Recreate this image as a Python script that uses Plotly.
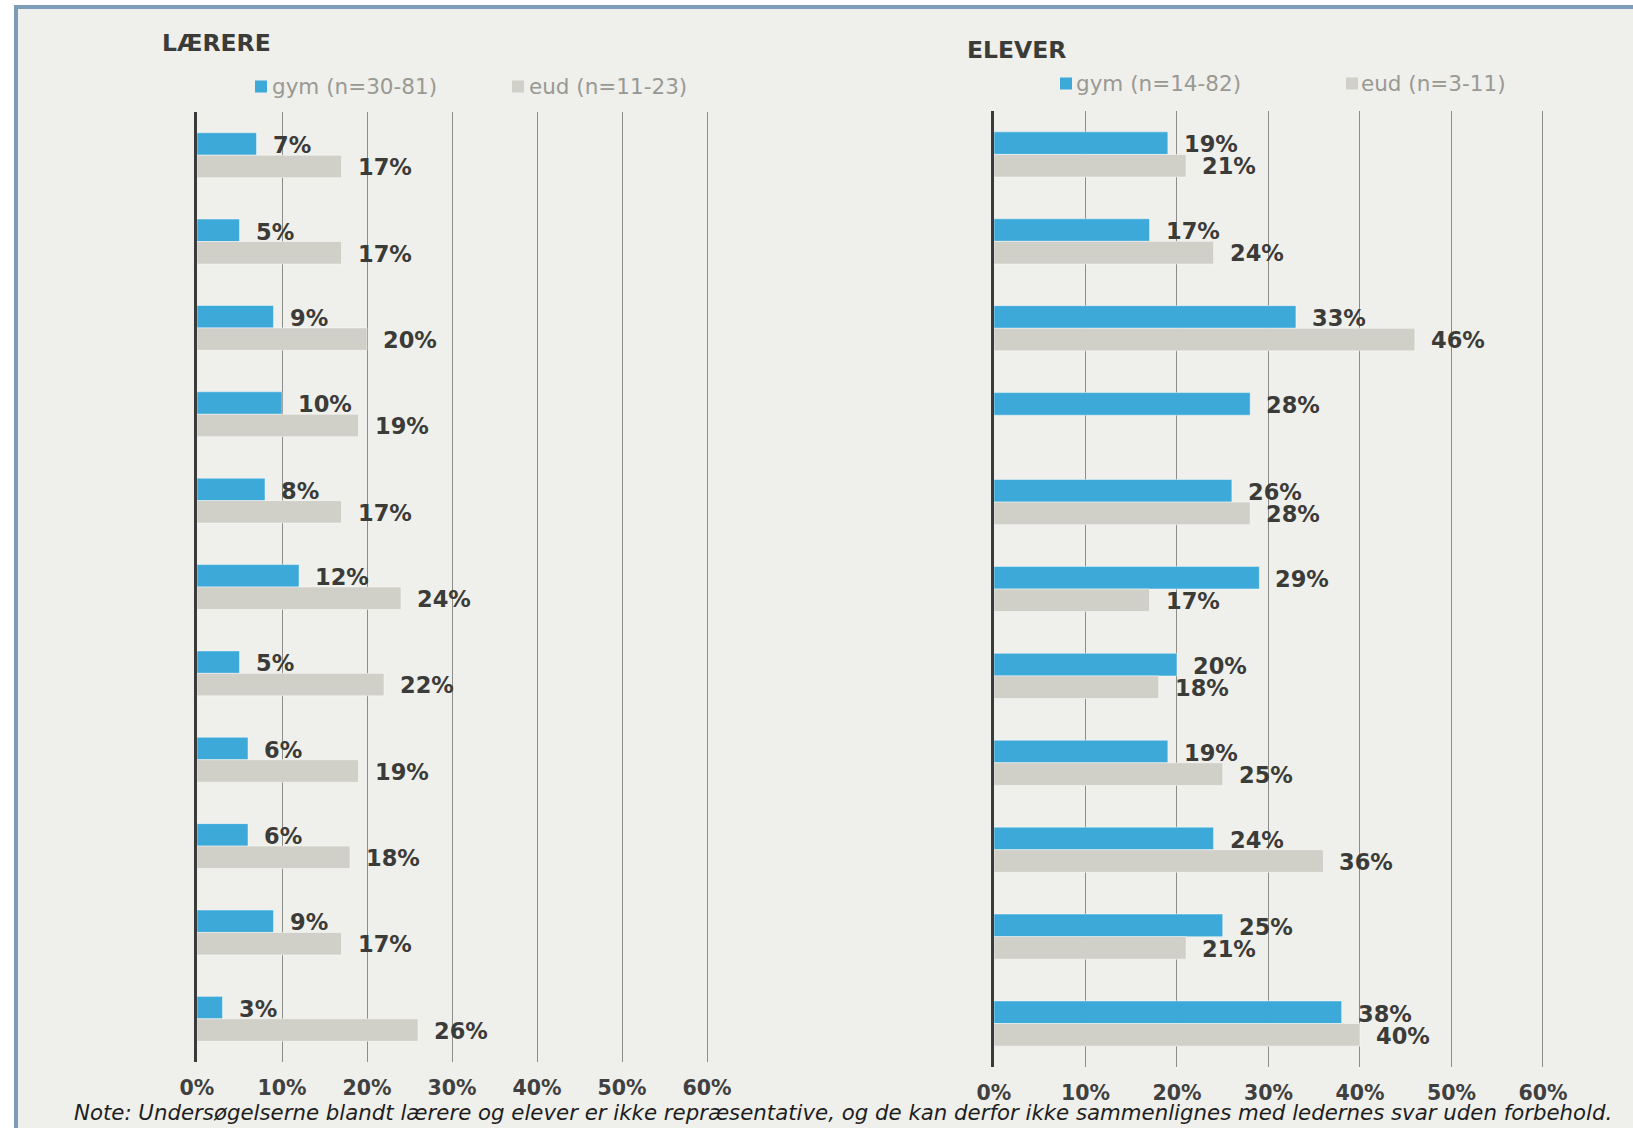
import plotly.graph_objects as go

# ---------------- data ----------------
items = [f"Q{i}" for i in range(1, 12)]
laerere_gym = [7, 5, 9, 10, 8, 12, 5, 6, 6, 9, 3]
laerere_eud = [17, 17, 20, 19, 17, 24, 22, 19, 18, 17, 26]
elever_gym = [19, 17, 33, 28, 26, 29, 20, 19, 24, 25, 38]
elever_eud = [21, 24, 46, None, 28, 17, 18, 25, 36, 21, 40]
x_ticks = [0, 10, 20, 30, 40, 50, 60]
x_tick_labels = ["0%", "10%", "20%", "30%", "40%", "50%", "60%"]
panel_titles = ["LÆRERE", "ELEVER"]
series_names_left = ["gym (n=30-81)", "eud (n=11-23)"]
series_names_right = ["gym (n=14-82)", "eud (n=3-11)"]
note_text = ("Note: Undersøgelserne blandt lærere og elever er ikke repræsentative, "
             "og de kan derfor ikke sammenlignes med ledernes svar uden forbehold.")

# ---------------- style ----------------
W, H = 1633, 1128
BLUE = "#3da9d8"
GREY = "#d0d0c8"
BG = "#efefeb"
DARK = "#3b3b38"
BORDER = "#7d9cb9"
FONT = "DejaVu Sans, Verdana, sans-serif"

def px_x(p):
    return p / W

def px_y(p):
    return 1 - p / H

fig = go.Figure()

panels = [
    dict(gym=laerere_gym, eud=laerere_eud, names=series_names_left, xa="x", ya="y"),
    dict(gym=elever_gym, eud=elever_eud, names=series_names_right, xa="x2", ya="y2"),
]

for p in panels:
    for vals, col, name in [(p["gym"], BLUE, p["names"][0]), (p["eud"], GREY, p["names"][1])]:
        fig.add_trace(go.Bar(
            y=items, x=vals, orientation="h", name=name,
            marker=dict(color=col, line=dict(color="rgba(255,255,255,0.45)", width=1)),
            xaxis=p["xa"], yaxis=p["ya"], showlegend=False, hoverinfo="skip",
        ))

annotations = []
for p in panels:
    for vals, ys in [(p["gym"], 10), (p["eud"], -12)]:
        for it, v in zip(items, vals):
            if v is None:
                continue
            annotations.append(dict(
                x=v, y=it, xref=p["xa"], yref=p["ya"], text=f"{v}%",
                showarrow=False, xanchor="left", yanchor="middle",
                xshift=14, yshift=ys,
                font=dict(family=FONT, size=22.5, color=DARK, weight="bold"),
            ))

# titles
annotations.append(dict(x=px_x(160), y=px_y(43), xref="paper", yref="paper",
                        text=f"<b>{panel_titles[0]}</b>", showarrow=False,
                        xanchor="left", yanchor="middle",
                        font=dict(family=FONT, size=23.5, color=DARK)))
annotations.append(dict(x=px_x(965), y=px_y(50), xref="paper", yref="paper",
                        text=f"<b>{panel_titles[1]}</b>", showarrow=False,
                        xanchor="left", yanchor="middle",
                        font=dict(family=FONT, size=23.5, color=DARK)))

# legends: swatch (x0, x1, yc) and text start
leg_pos = [
    (series_names_left[0], BLUE, 255, 267, 86.5, 270),
    (series_names_left[1], GREY, 512, 524, 86.5, 527),
    (series_names_right[0], BLUE, 1060, 1072, 83.5, 1074),
    (series_names_right[1], GREY, 1346, 1358, 83.5, 1359),
]
shapes = [
    # white surround outside the frame
    dict(type="rect", xref="paper", yref="paper", layer="below",
         x0=0, x1=1, y0=px_y(5), y1=1, fillcolor="white", line=dict(width=0)),
    dict(type="rect", xref="paper", yref="paper", layer="below",
         x0=0, x1=px_x(14), y0=0, y1=1, fillcolor="white", line=dict(width=0)),
    # frame lines (top and left)
    dict(type="line", xref="paper", yref="paper", layer="below",
         x0=px_x(14), x1=1, y0=px_y(7), y1=px_y(7), line=dict(color=BORDER, width=4)),
    dict(type="line", xref="paper", yref="paper", layer="below",
         x0=px_x(16), x1=px_x(16), y0=0, y1=px_y(5), line=dict(color=BORDER, width=4)),
]
for name, col, sx0, sx1, yc, tx in leg_pos:
    shapes.append(dict(type="rect", xref="paper", yref="paper",
                       x0=px_x(sx0), x1=px_x(sx1), y0=px_y(yc + 6), y1=px_y(yc - 6),
                       fillcolor=col, line=dict(width=0)))
    annotations.append(dict(
        x=px_x(tx), y=px_y(yc), xref="paper", yref="paper",
        text=name, showarrow=False, xanchor="left", yanchor="middle",
        font=dict(family=FONT, size=21.5, color="#999994")))

# note
annotations.append(dict(x=px_x(72), y=px_y(1112), xref="paper", yref="paper",
                        text=f"<i>{note_text}</i>", showarrow=False,
                        xanchor="left", yanchor="middle",
                        font=dict(family=FONT, size=21.3, color="#1e1e1e")))

xcommon = dict(range=[0, 60.3], tickvals=x_ticks, ticktext=x_tick_labels,
               showgrid=True, gridcolor="#8c8c88", gridwidth=1,
               zeroline=False, showline=False, ticks="",
               tickfont=dict(family=FONT, size=20.5, color="#404040", weight="bold"),
               ticklabelstandoff=11, fixedrange=True, automargin=False)
ycommon = dict(type="category", categoryorder="array", categoryarray=items,
               range=[10.5, -0.5], showticklabels=False, showgrid=False,
               zeroline=False, showline=True, linecolor="#3a3a3a", linewidth=3,
               ticks="", fixedrange=True, automargin=False)

fig.update_layout(
    width=W, height=H, autosize=False,
    margin=dict(l=0, r=0, t=0, b=0, pad=0, autoexpand=False),
    paper_bgcolor=BG, plot_bgcolor="rgba(0,0,0,0)",
    barmode="group", bargap=0.48, bargroupgap=0,
    xaxis=dict(domain=[px_x(197), px_x(709.6)], anchor="y", **xcommon),
    yaxis=dict(domain=[px_y(1062), px_y(112)], anchor="x", **ycommon),
    xaxis2=dict(domain=[px_x(994), px_x(1545.7)], anchor="y2", **xcommon),
    yaxis2=dict(domain=[px_y(1067), px_y(111)], anchor="x2", **ycommon),
    annotations=annotations,
    shapes=shapes,
    showlegend=False,
)

fig.write_html("out.html", config={"displayModeBar": False, "responsive": False},
               post_script="document.body.style.margin='0';document.body.style.overflow='hidden';")
